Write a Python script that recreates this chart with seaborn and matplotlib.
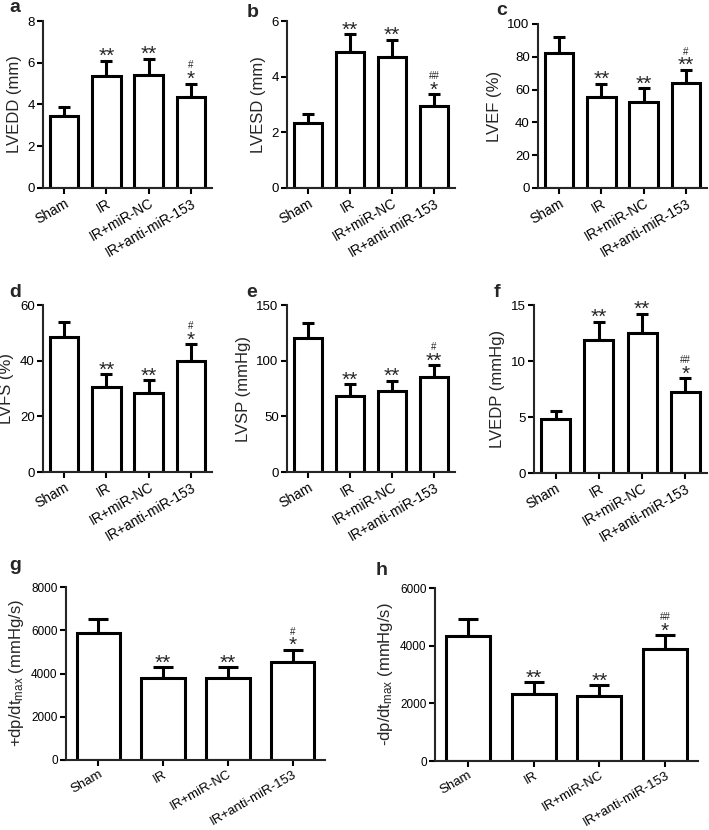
import matplotlib
matplotlib.use("Agg")
import matplotlib.pyplot as plt
import seaborn as sns
import pandas as pd

sns.set_style("ticks")
plt.rcParams['font.family'] = ['Liberation Sans', 'DejaVu Sans']
plt.rcParams['mathtext.default'] = 'regular'

groups = ["Sham", "IR", "IR+miR-NC", "IR+anti-miR-153"]

# mean and SD
lvedd = [3.43, 5.36, 5.40, 4.38]
lvedd_sd = [0.47, 0.73, 0.80, 0.62]
lvesd = [2.32, 4.87, 4.71, 2.95]
lvesd_sd = [0.33, 0.66, 0.62, 0.42]
lvef = [82.4, 55.4, 52.7, 64.3]
lvef_sd = [9.5, 8.1, 8.2, 7.7]
lvfs = [48.6, 30.6, 28.4, 40.0]
lvfs_sd = [5.4, 4.6, 4.6, 5.9]
lvsp = [120.0, 68.0, 73.0, 85.0]
lvsp_sd = [13.5, 10.6, 9.0, 10.8]
lvedp = [4.86, 11.85, 12.50, 7.20]
lvedp_sd = [0.66, 1.65, 1.72, 1.25]
dpdt_pos = [5850, 3800, 3815, 4510]
dpdt_pos_sd = [650, 495, 480, 585]
dpdt_neg = [4340, 2310, 2240, 3890]
dpdt_neg_sd = [590, 430, 395, 475]

stars_a = ["", "**", "**", "*"];  hash_a = ["", "", "", "#"]
stars_b = ["", "**", "**", "*"];  hash_b = ["", "", "", "##"]
stars_c = ["", "**", "**", "**"]; hash_c = ["", "", "", "#"]
stars_d = ["", "**", "**", "*"];  hash_d = ["", "", "", "#"]
stars_e = ["", "**", "**", "**"]; hash_e = ["", "", "", "#"]
stars_f = ["", "**", "**", "*"];  hash_f = ["", "", "", "##"]
stars_g = ["", "**", "**", "*"];  hash_g = ["", "", "", "#"]
stars_h = ["", "**", "**", "*"];  hash_h = ["", "", "", "##"]

W, H = 709, 830
fig = plt.figure(figsize=(W / 100, H / 100), dpi=100)


def px_axes(left, top, right, bottom):
    return fig.add_axes([left / W, 1 - bottom / H, (right - left) / W, (bottom - top) / H])


def panel(ax, means, sds, stars, hashes, ylabel, ymax, ystep, letter, letter_xy, small=False):
    df = pd.DataFrame({"group": groups, "value": means})
    sns.barplot(data=df, x="group", y="value", color="white", edgecolor="black",
                linewidth=2.2, width=0.67, errorbar=None, ax=ax, zorder=2)
    capsize = 7 if small else 4
    ax.errorbar(range(len(means)), means, yerr=[[0] * len(sds), sds], fmt="none",
                ecolor="black", elinewidth=2.2, capsize=capsize, capthick=2.2, zorder=1)
    for i, (m, s) in enumerate(zip(means, sds)):
        top = m + s
        if stars[i]:
            ax.annotate(stars[i], (i, top), xytext=(0, -1), textcoords="offset points",
                        ha="center", va="baseline", fontsize=15)
        if hashes[i]:
            ax.annotate(hashes[i], (i, top), xytext=(0, 11), textcoords="offset points",
                        ha="center", va="baseline", fontsize=7)
    ax.set_xlim(-0.5, 3.5)
    ax.set_ylim(0, ymax)
    ax.set_yticks(range(0, int(ymax) + 1, ystep))
    ax.set_xlabel("")
    ax.set_ylabel(ylabel, fontsize=12, labelpad=4)
    sns.despine(ax=ax)
    for sp in ["left", "bottom"]:
        ax.spines[sp].set_linewidth(1.5)
    ax.tick_params(axis="both", width=1.5, length=4, colors="black", pad=2,
                   labelsize=8.5 if small else 9.5)
    ax.tick_params(axis="x", labelsize=9.5 if small else 10, pad=2)
    plt.setp(ax.get_xticklabels(), rotation=30, ha="right", rotation_mode="anchor")
    fig.text(letter_xy[0] / W, 1 - letter_xy[1] / H, letter, fontsize=14,
             fontweight="bold", ha="left", va="baseline")


ax_a = px_axes(43, 21, 212, 188)
panel(ax_a, lvedd, lvedd_sd, stars_a, hash_a, "LVEDD (mm)", 8, 2, "a", (9, 12))
ax_b = px_axes(287, 21, 455, 188)
panel(ax_b, lvesd, lvesd_sd, stars_b, hash_b, "LVESD (mm)", 6, 2, "b", (247, 17))
ax_c = px_axes(538, 24, 707, 188)
panel(ax_c, lvef, lvef_sd, stars_c, hash_c, "LVEF (%)", 100, 20, "c", (496, 15))
ax_d = px_axes(43, 305, 212, 472)
panel(ax_d, lvfs, lvfs_sd, stars_d, hash_d, "LVFS (%)", 60, 20, "d", (9, 297))
ax_e = px_axes(287, 305, 455, 472)
panel(ax_e, lvsp, lvsp_sd, stars_e, hash_e, "LVSP (mmHg)", 150, 50, "e", (246, 297))
ax_f = px_axes(534, 305, 707, 473)
panel(ax_f, lvedp, lvedp_sd, stars_f, hash_f, "LVEDP (mmHg)", 15, 5, "f", (494, 297))
ax_g = px_axes(66, 587, 325, 760)
panel(ax_g, dpdt_pos, dpdt_pos_sd, stars_g, hash_g,
      "+dp/dt$_{max}$ (mmHg/s)", 8000, 2000, "g", (9, 570), small=True)
ax_h = px_axes(435, 588, 698, 761)
panel(ax_h, dpdt_neg, dpdt_neg_sd, stars_h, hash_h,
      "-dp/dt$_{max}$ (mmHg/s)", 6000, 2000, "h", (376, 575), small=True)

fig.savefig("out.png", dpi=100, facecolor="white")
